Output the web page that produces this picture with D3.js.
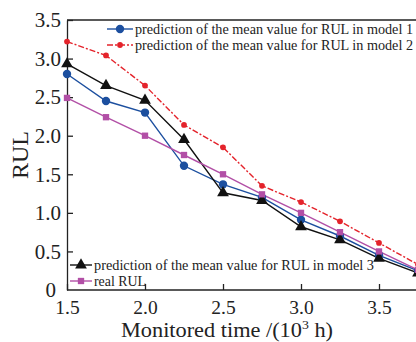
<!DOCTYPE html>
<html>
<head>
<meta charset="utf-8">
<script src="https://d3js.org/d3.v7.min.js"></script>
<style>
  body { margin: 0; background: #fff; }
  svg { display: block; font-family: "Liberation Serif", "DejaVu Serif", serif; }
</style>
</head>
<body>
<script>
// monitored time (10^3 h)
var times = [1.5, 1.75, 2.0, 2.25, 2.5, 2.75, 3.0, 3.25, 3.5, 3.75];
var model1 = [2.80, 2.45, 2.30, 1.61, 1.37, 1.20, 0.91, 0.70, 0.45, 0.25];
var model2 = [3.22, 3.04, 2.65, 2.14, 1.85, 1.35, 1.14, 0.89, 0.61, 0.33];
var model3 = [2.93, 2.65, 2.46, 1.95, 1.26, 1.16, 0.82, 0.65, 0.41, 0.22];
var realRUL = [2.49, 2.24, 2.00, 1.75, 1.50, 1.24, 1.00, 0.75, 0.50, 0.26];
var xTicks = [1.5, 2.0, 2.5, 3.0, 3.5];
var yTicks = [0, 0.5, 1.0, 1.5, 2.0, 2.5, 3.0, 3.5];

var W = 416, H = 342;
var svg = d3.select("body").append("svg").attr("width", W).attr("height", H);

var x = d3.scaleLinear().domain([1.5, 3.5]).range([67, 379]);
var y = d3.scaleLinear().domain([0, 3.5]).range([290, 20]);
var right = 440;

var series = [
  {name: "prediction of the mean value for RUL in model 1", v: model1, color: "#1c4f9f", dash: null, mark: "circle"},
  {name: "prediction of the mean value for RUL in model 2", v: model2, color: "#e4232b", dash: "6,2,2,2", mark: "star"},
  {name: "prediction of the mean value for RUL in model 3", v: model3, color: "#111", dash: null, mark: "triangle"},
  {name: "real RUL", v: realRUL, color: "#b24fa6", dash: null, mark: "square"}
];

// frame
svg.append("line").attr("x1", x(1.5)).attr("x2", right).attr("y1", y(3.5)).attr("y2", y(3.5))
  .attr("stroke", "#222").attr("stroke-width", 1.3);

var gx = svg.append("g").attr("transform", "translate(0," + y(0) + ")")
  .call(d3.axisBottom(x).tickValues(xTicks).tickSizeInner(-6).tickSizeOuter(0).tickPadding(10)
    .tickFormat(d3.format(".1f")));
gx.select(".domain").attr("d", "M" + x(1.5) + ",0H" + right);
var gy = svg.append("g").attr("transform", "translate(" + x(1.5) + ",0)")
  .call(d3.axisLeft(y).tickValues(yTicks).tickSizeInner(-6).tickSizeOuter(0).tickPadding(6)
    .tickFormat(function(d) { return d === 0 ? "0" : d3.format(".1f")(d); }));
gy.select(".tick:first-of-type line").remove();
[gx, gy].forEach(function(g) {
  g.selectAll(".domain, line").attr("stroke", "#222").attr("stroke-width", 1.3);
  g.selectAll("text").attr("fill", "#222")
    .attr("font-family", "Liberation Serif, DejaVu Serif, serif");
});
gx.selectAll("text").attr("font-size", 19.5);
gy.selectAll("text").attr("font-size", 21).attr("dy", "0.32em");
gy.select(".tick:first-of-type text").attr("dy", "0.3em").attr("x", -11);

function symbolFor(m) {
  if (m === "circle") return d3.symbol().type(d3.symbolCircle).size(55);
  if (m === "star") return d3.symbol().type(d3.symbolCircle).size(26);
  if (m === "triangle") return d3.symbol().type(d3.symbolTriangle).size(60);
  return d3.symbol().type(d3.symbolSquare).size(40);
}

var line = d3.line().x(function(d, i) { return x(times[i]); }).y(function(d) { return y(d); });

series.forEach(function(s) {
  svg.append("path").datum(s.v).attr("d", line).attr("fill", "none")
    .attr("stroke", s.color).attr("stroke-width", 1.4)
    .attr("stroke-dasharray", s.dash);
});
series.forEach(function(s) {
  svg.append("g").selectAll("path").data(s.v).enter().append("path")
    .attr("d", symbolFor(s.mark))
    .attr("transform", function(d, i) { return "translate(" + x(times[i]) + "," + y(d) + ")"; })
    .attr("fill", s.color);
});

// legends
function legendItem(s, lx, ly, len, tl) {
  var g = svg.append("g");
  g.append("line").attr("x1", lx).attr("x2", lx + len).attr("y1", ly).attr("y2", ly)
    .attr("stroke", s.color).attr("stroke-width", 1.4).attr("stroke-dasharray", s.dash);
  g.append("path").attr("d", symbolFor(s.mark)).attr("transform", "translate(" + (lx + len / 2) + "," + ly + ")")
    .attr("fill", s.color);
  var t = g.append("text").attr("x", lx + len + 2).attr("y", ly).attr("dy", "0.35em")
    .attr("font-size", 14).attr("fill", "#222").text(s.name);
  if (tl) t.attr("textLength", tl).attr("lengthAdjust", "spacingAndGlyphs");
}
legendItem(series[0], 107, 29, 26, 278);
legendItem(series[1], 107, 45, 26, 278);
legendItem(series[2], 70, 265, 22, 280);
legendItem(series[3], 70, 281, 22, 52);

svg.append("text").attr("x", 227).attr("y", 337).attr("text-anchor", "middle")
  .attr("font-size", 21).attr("fill", "#222")
  .attr("textLength", 212).attr("lengthAdjust", "spacingAndGlyphs")
  .html('Monitored time /(10<tspan dy="-8" font-size="13">3</tspan><tspan dy="8"> h)</tspan>');
svg.append("text").attr("transform", "translate(28,155) rotate(-90)").attr("text-anchor", "middle")
  .attr("font-size", 24).attr("fill", "#222").text("RUL");
</script>
</body>
</html>
